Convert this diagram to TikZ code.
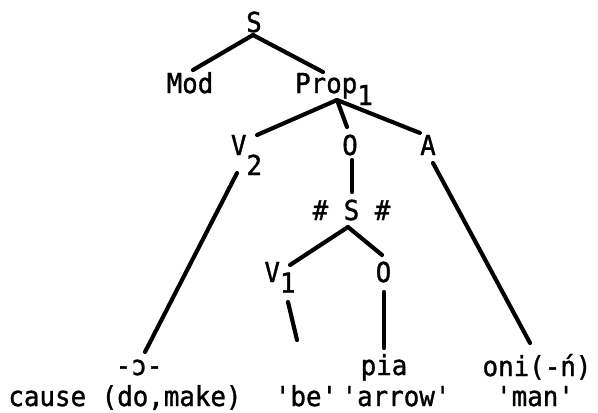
\documentclass[tikz,border=0pt]{standalone}
\usepackage{fontspec}
\setmonofont{DejaVu Sans Mono}[FakeStretch=0.94, FakeBold=1.2]
\begin{document}
\begin{tikzpicture}[x=0.75pt,y=-0.75pt,
  lbl/.style={inner sep=0pt, anchor=base, font=\ttfamily\fontsize{20.6pt}{24pt}\selectfont},
  branch/.style={line width=3.1pt, line cap=round}]
\useasboundingbox (0,0) rectangle (598,412);
% nodes
\node[lbl] (s0) at (254,32) {S};
\node[lbl] (mod) at (190,93) {Mod};
\node[lbl] (prop) at (334,93) {Prop\raisebox{-9pt}{1}};
\node[lbl] (v2) at (246.5,155) {V\raisebox{-15pt}{2}};
\node[lbl] (o1) at (350,155) {O};
\node[lbl] (a) at (428,155) {A};
\node[lbl] (s1) at (351.5,220) {\# S \#};
\node[lbl] (v1) at (280,282) {V\raisebox{-8pt}{1}};
\node[lbl] (o2) at (383.5,282) {O};
\node[lbl] (caus) at (139,375) {-ɔ-};
\node[lbl] (pia) at (384,375) {pia};
\node[lbl] (oni) at (537,376) {oni(-ń)};
\node[lbl] (gl1) at (125,406) {cause (do,make)};
\node[lbl] (gl2) at (306,406) {'be'};
\node[lbl] (gl3) at (396,406) {'arrow'};
\node[lbl] (gl4) at (535,406) {'man'};
% branches
\draw[branch] ([shift={(-1,3)}]s0.base) -- ([shift={(3,-23)}]mod.base);
\draw[branch] ([shift={(-1,3)}]s0.base) -- ([shift={(-11,-21)}]prop.base);
\draw[branch] ([shift={(3,7)}]prop.base) -- ([shift={(10.5,-20)}]v2.base);
\draw[branch] ([shift={(3,7)}]prop.base) -- ([shift={(-3,-28)}]o1.base);
\draw[branch] ([shift={(3,7)}]prop.base) -- ([shift={(-8,-22)}]a.base);
\draw[branch] ([shift={(-9.5,18)}]v2.base) -- ([shift={(6,-23)}]caus.base);
\draw[branch] ([shift={(2,5)}]o1.base) -- ([shift={(0.5,-28)}]s1.base);
\draw[branch] ([shift={(5,8)}]a.base) -- ([shift={(-7,-33)}]oni.base);
\draw[branch] ([shift={(-3.5,7)}]s1.base) -- ([shift={(10,-17)}]v1.base);
\draw[branch] ([shift={(-3.5,7)}]s1.base) -- ([shift={(-1.5,-27)}]o2.base);
\draw[branch] ([shift={(8,20)}]v1.base) -- ([shift={(-9,-66)}]gl2.base);
\draw[branch] ([shift={(0.5,10)}]o2.base) -- ([shift={(0,-27)}]pia.base);
\end{tikzpicture}
\end{document}
